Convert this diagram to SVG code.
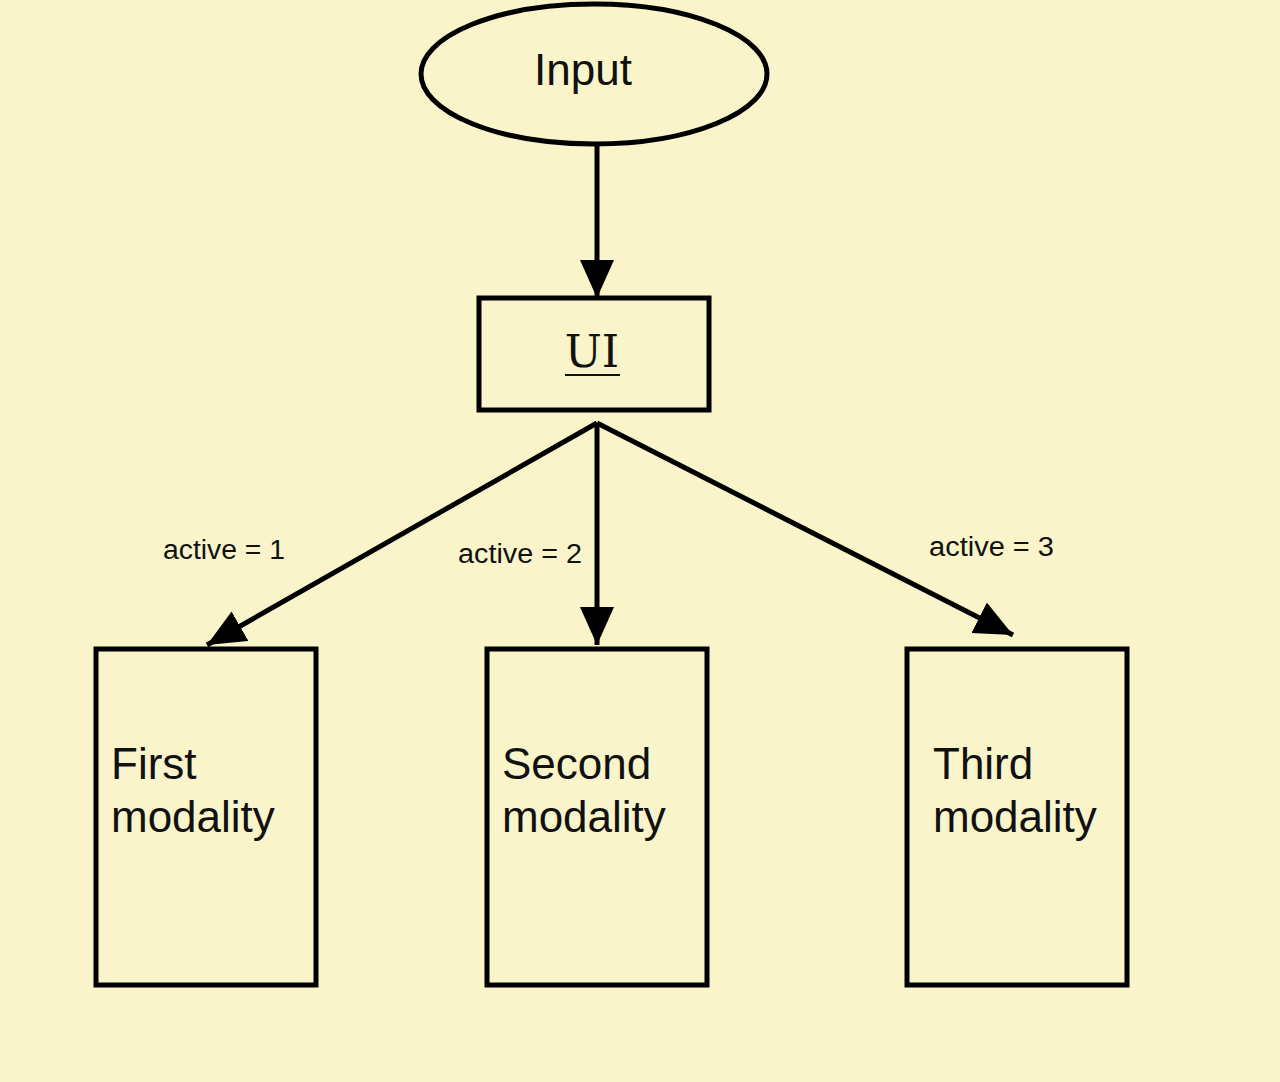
<svg xmlns="http://www.w3.org/2000/svg" width="1280" height="1082" viewBox="0 0 1280 1082">
<style>
.shape{fill:none;stroke:#000;stroke-width:5}
.conn{stroke:#000;stroke-width:5;fill:none}
.sans{font-family:"Liberation Sans",Arial,sans-serif;fill:#111}
.lbl{font-size:27px}
.big{font-size:44px}
</style>
<defs>
<marker id="ah" markerUnits="userSpaceOnUse" markerWidth="42" markerHeight="36" refX="38" refY="17" orient="auto" viewBox="0 0 42 36">
<path d="M0,0 L38,17 L0,34 Z" fill="#000"/>
</marker>
</defs>
<rect width="1280" height="1082" fill="#f9f4c9"/>
<g id="connectors">
<line class="conn" x1="597" y1="145" x2="597" y2="298" marker-end="url(#ah)"/>
<line class="conn" x1="597" y1="423" x2="207" y2="645" marker-end="url(#ah)"/>
<line class="conn" x1="597" y1="423" x2="597" y2="645" marker-end="url(#ah)"/>
<line class="conn" x1="597" y1="423" x2="1013" y2="635" marker-end="url(#ah)"/>
<text class="sans lbl" x="163" y="559" textLength="122" lengthAdjust="spacingAndGlyphs">active = 1</text>
<text class="sans lbl" x="458" y="563" textLength="124" lengthAdjust="spacingAndGlyphs">active = 2</text>
<text class="sans lbl" x="929" y="556" textLength="125" lengthAdjust="spacingAndGlyphs">active = 3</text>
</g>
<g id="input">
<ellipse class="shape" cx="594" cy="74" rx="173" ry="70"/>
<text class="sans big" x="583" y="85" text-anchor="middle">Input</text>
</g>
<g id="ui">
<rect class="shape" x="479" y="298" width="230" height="112"/>
<text x="592" y="367" text-anchor="middle" font-family="DejaVu Serif,serif" font-size="44" fill="#111">UI</text>
<line x1="565" y1="375" x2="620" y2="375" stroke="#111" stroke-width="2"/>
</g>
<g id="first">
<rect class="shape" x="96" y="649" width="220" height="336"/>
<text class="sans big" x="111" y="779">First</text>
<text class="sans big" x="111" y="832">modality</text>
</g>
<g id="second">
<rect class="shape" x="487" y="649" width="220" height="336"/>
<text class="sans big" x="502" y="779">Second</text>
<text class="sans big" x="502" y="832">modality</text>
</g>
<g id="third">
<rect class="shape" x="907" y="649" width="220" height="336"/>
<text class="sans big" x="933" y="779">Third</text>
<text class="sans big" x="933" y="832">modality</text>
</g>
</svg>
